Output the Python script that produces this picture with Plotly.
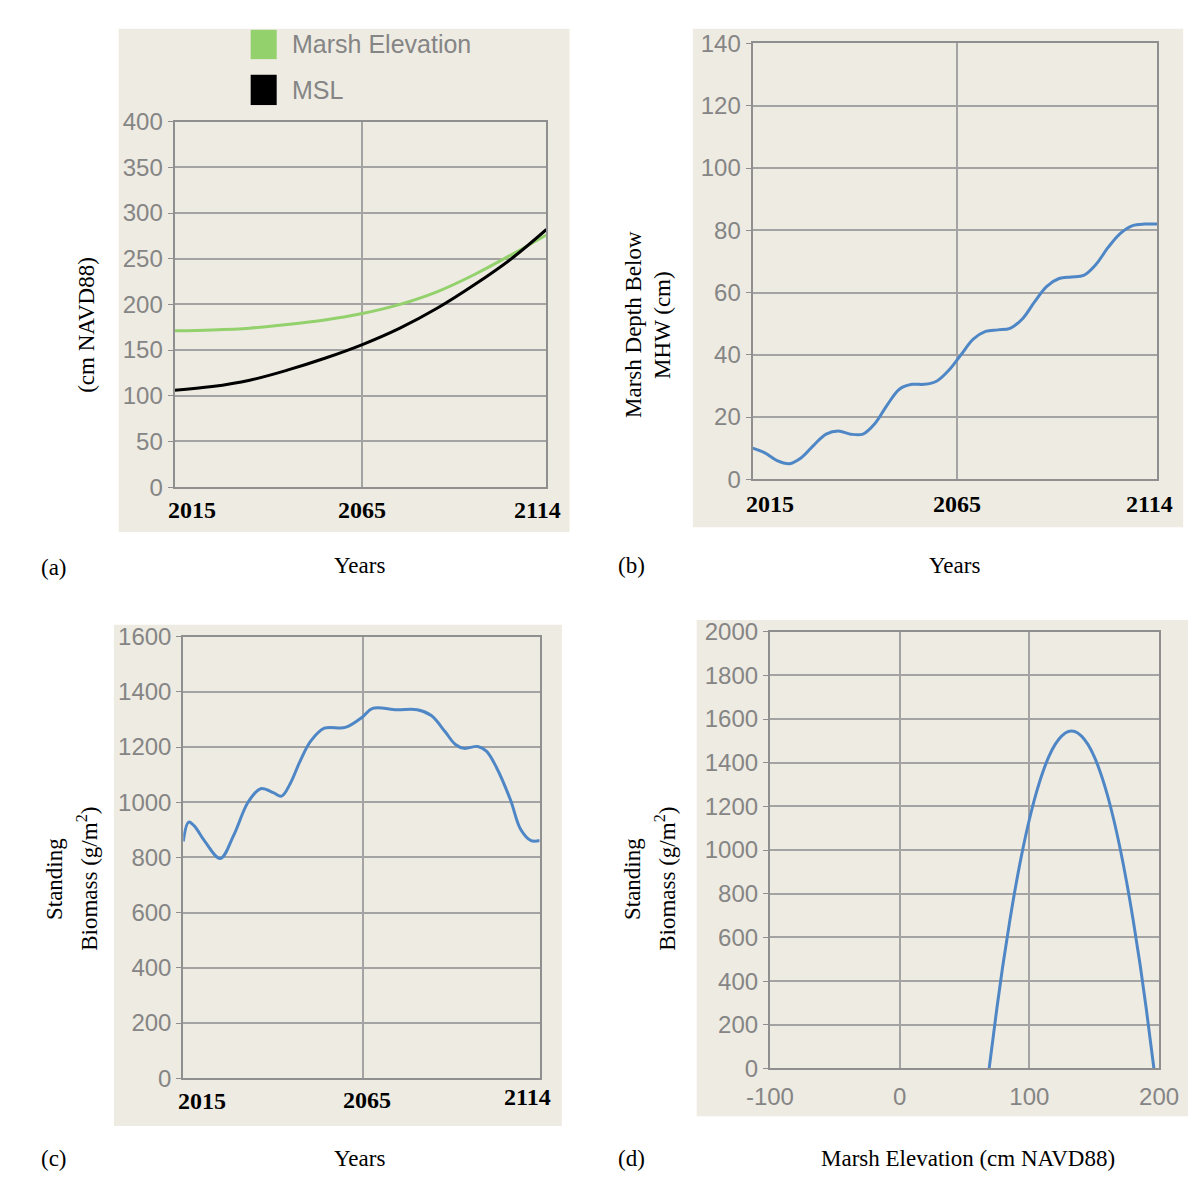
import plotly.graph_objects as go

W, H = 1200, 1179

# ---------------- data ----------------
years_a = [2015, 2025, 2035, 2045, 2055, 2065, 2075, 2085, 2095, 2105, 2114]
marsh_elevation = [171, 172, 174, 178, 183, 190, 200, 214, 233, 255, 276]
msl = [106, 110, 117, 128, 141, 156, 174, 196, 222, 251, 282]

years_b = [2015, 2018, 2021, 2024, 2027, 2030, 2033, 2036, 2039, 2042, 2045, 2048,
           2051, 2054, 2057, 2060, 2063, 2066, 2069, 2072, 2075, 2078, 2081, 2084,
           2087, 2090, 2093, 2096, 2099, 2102, 2105, 2108, 2111, 2114]
marsh_depth = [10, 8.5, 6, 5, 7, 11, 14.5, 15.5, 14.5, 14.5, 18, 24,
               29, 30.5, 30.5, 31.5, 35, 40, 45, 47.5, 48, 48.5, 51.5, 57,
               62, 64.5, 65, 65.5, 69, 74.5, 79, 81.5, 82, 82]

years_c = [2015, 2016.5, 2018, 2021, 2025.3, 2029, 2033, 2036.5, 2040, 2042.3, 2044.7,
           2047.5, 2050.4, 2054.2, 2060, 2064.7, 2067.6, 2074.3, 2080, 2083.9,
           2087.7, 2090.6, 2093, 2096.8, 2099.2, 2102, 2105.9, 2108.7, 2111.6, 2114]
biomass_c = [858, 928, 915, 858, 796, 880, 1000, 1049, 1035, 1022, 1067,
             1150, 1221, 1268, 1271, 1308, 1340, 1335, 1335, 1314,
             1256, 1209, 1195, 1202, 1185, 1126, 1008, 902, 861, 861]

elev_d = [69, 75, 80, 85, 90, 95, 100, 105, 110, 115, 120, 125, 130,
          135, 140, 145, 150, 155, 160, 165, 170, 175, 180, 185, 190, 196]
biomass_d = [0, 278, 489, 680, 853, 1006, 1140, 1255, 1351, 1428, 1485, 1523, 1543,
             1543, 1523, 1485, 1428, 1351, 1255, 1140, 1006, 853, 680, 489, 278, 0]

year_labels = ["2015", "2065", "2114"]
year_label_pos = [2015, 2065, 2114]
elev_ticks = [-100, 0, 100, 200]
elev_tick_text = ["-100", "0", "100", "200"]

# ---------------- style ----------------
BEIGE = "#eeebe2"
GRID = "#a3a3a3"
FRAME = "#8f8f8f"
TICKC = "#858585"
GREEN = "#93d16c"
BLUE = "#4f87c6"
SANS = "Liberation Sans, Arial, sans-serif"
SERIF = "Liberation Serif, Times New Roman, serif"

def fx(x):
    return x / W

def fy(y):
    return 1 - y / H

fig = go.Figure()

fig.add_trace(go.Scatter(x=years_a, y=marsh_elevation, mode="lines", line=dict(color=GREEN, width=3, shape="spline"),
                         name="Marsh Elevation", xaxis="x", yaxis="y", showlegend=False))
fig.add_trace(go.Scatter(x=years_a, y=msl, mode="lines", line=dict(color="black", width=3, shape="spline"),
                         name="MSL", xaxis="x", yaxis="y", showlegend=False))
fig.add_trace(go.Scatter(x=years_b, y=marsh_depth, mode="lines", line=dict(color=BLUE, width=3, shape="spline"),
                         xaxis="x2", yaxis="y2", showlegend=False))
fig.add_trace(go.Scatter(x=years_c, y=biomass_c, mode="lines", line=dict(color=BLUE, width=3, shape="spline"),
                         xaxis="x3", yaxis="y3", showlegend=False))
fig.add_trace(go.Scatter(x=elev_d, y=biomass_d, mode="lines", line=dict(color=BLUE, width=3, shape="spline"),
                         xaxis="x4", yaxis="y4", showlegend=False))

def xax(domain, rng, tickvals):
    return dict(domain=domain, range=rng, tickvals=tickvals, showticklabels=False,
                showgrid=True, gridcolor=GRID, gridwidth=1.5, zeroline=False,
                showline=True, mirror=True, linecolor=FRAME, linewidth=2,
                ticks="", tickfont=dict(family=SANS, size=24, color=TICKC), fixedrange=True)

def yax(domain, rng, dtick, anchor):
    return dict(domain=domain, range=rng, dtick=dtick, tick0=0, anchor=anchor,
                showgrid=True, gridcolor=GRID, gridwidth=1.5, zeroline=False,
                showline=True, mirror=True, linecolor=FRAME, linewidth=2,
                ticks="outside", ticklen=5, tickcolor=FRAME, tickwidth=1,
                tickfont=dict(family=SANS, size=24, color=TICKC), fixedrange=True)

A = (148, 534, 102, 476)
B = (748, 1168, 22, 468)
C = (157, 527, 629, 1081)
D = (766, 1170, 624, 1071)

def dom(b):
    return [fx(b[0]), fx(b[1])], [fy(b[3]), fy(b[2])]

ax_x, ax_y = dom(A)
bx_x, bx_y = dom(B)
cx_x, cx_y = dom(C)
dx_x, dx_y = dom(D)

x4 = xax(dx_x, [-100, 200], elev_ticks)
x4.update(showticklabels=True, ticktext=elev_tick_text, anchor="y4", ticklabelstandoff=6)

fig.update_layout(
    width=W, height=H, margin=dict(l=0, r=0, t=0, b=0, pad=0), autosize=False,
    paper_bgcolor="white", plot_bgcolor="white", showlegend=False,
    xaxis=dict(xax(ax_x, [2015, 2114], [2065]), anchor="y"),
    yaxis=yax(ax_y, [0, 400], 50, "x"),
    xaxis2=dict(xax(bx_x, [2015, 2114], [2065]), anchor="y2"),
    yaxis2=yax(bx_y, [0, 140], 20, "x2"),
    xaxis3=dict(xax(cx_x, [2015, 2114], [2065]), anchor="y3"),
    yaxis3=yax(cx_y, [0, 1600], 200, "x3"),
    xaxis4=x4,
    yaxis4=yax(dx_y, [0, 2000], 200, "x4"),
)

shapes = []
for (l, r, t, b) in [(90, 558, 7, 522), (686, 1195, 7, 517), (85, 550, 617, 1130), (690, 1200, 612, 1120)]:
    shapes.append(dict(type="rect", xref="paper", yref="paper", x0=fx(l), x1=fx(r), y0=fy(b), y1=fy(t),
                       fillcolor=BEIGE, line=dict(width=0), layer="below"))
shapes.append(dict(type="rect", xref="paper", yref="paper", x0=fx(227), x1=fx(254), y0=fy(38), y1=fy(8),
                   fillcolor=GREEN, line=dict(width=0)))
shapes.append(dict(type="rect", xref="paper", yref="paper", x0=fx(227), x1=fx(254), y0=fy(85), y1=fy(54),
                   fillcolor="black", line=dict(width=0)))
fig.update_layout(shapes=shapes)

ann = []
def txt(x, y, s, size=23, family=SERIF, color="black", angle=0, xanchor="center"):
    ann.append(dict(x=fx(x), y=fy(y), xref="paper", yref="paper", text=s, showarrow=False,
                    font=dict(family=family, size=size, color=color), textangle=angle,
                    xanchor=xanchor, yanchor="middle"))

txt(268, 23, "Marsh Elevation", size=25, family=SANS, color=TICKC, xanchor="left")
txt(268, 70, "MSL", size=25, family=SANS, color=TICKC, xanchor="left")

def year_labels_for(xref, shifts, ys):
    for lab, pos, sh, yy in zip(year_labels, year_label_pos, shifts, ys):
        ann.append(dict(x=pos, y=fy(yy), xref=xref, yref="paper", text="<b>" + lab + "</b>", showarrow=False,
                        xshift=sh, font=dict(family=SERIF, size=24, color="black"),
                        xanchor="center", yanchor="middle"))

year_labels_for("x", [17, 0, -9], [499, 499, 499])
year_labels_for("x2", [17, 0, -8], [493, 493, 493])
year_labels_for("x3", [19, 4, -12], [1104, 1103, 1100])

txt(57, 310, "(cm NAVD88)", angle=-90)
txt(625, 310, "Marsh Depth Below", angle=-90)
txt(655, 310, "MHW (cm)", angle=-90)
txt(24, 877, "Standing", angle=-90)
txt(58, 877, "Biomass (g/m<sup>2</sup>)", angle=-90)
txt(624, 877, "Standing", angle=-90)
txt(658, 877, "Biomass (g/m<sup>2</sup>)", angle=-90)

txt(23, 558, "(a)")
txt(340, 556, "Years")
txt(622, 556, "(b)")
txt(958, 556, "Years")
txt(23, 1163, "(c)")
txt(340, 1163, "Years")
txt(622, 1163, "(d)")
txt(972, 1163, "Marsh Elevation (cm NAVD88)")

fig.update_layout(annotations=ann)

fig.write_html("out.html")
